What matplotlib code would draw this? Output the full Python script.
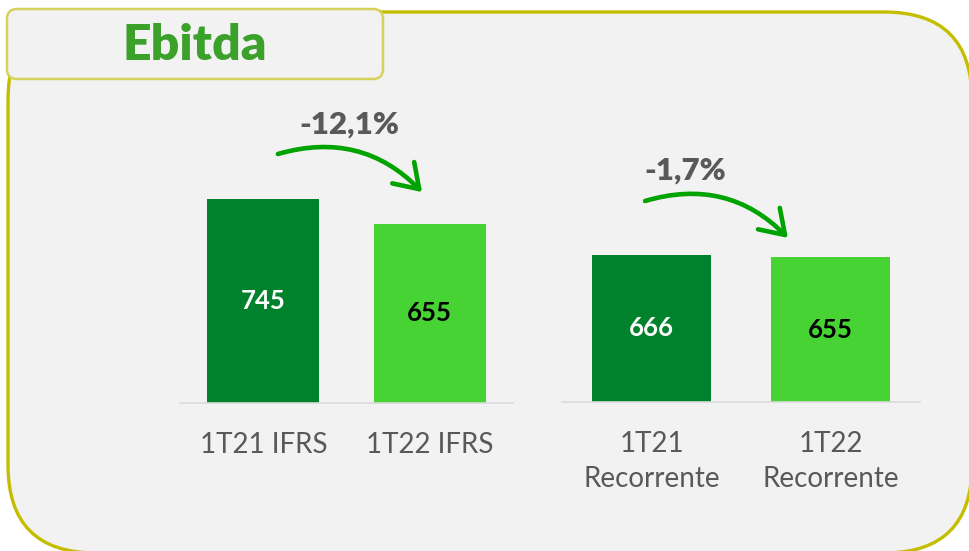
import matplotlib.pyplot as plt
from matplotlib.patches import FancyBboxPatch

# data
categories_ifrs = ["1T21 IFRS", "1T22 IFRS"]
ebitda_ifrs = [745, 655]
categories_rec = ["1T21\nRecorrente", "1T22\nRecorrente"]
ebitda_rec = [666, 655]
var_labels = ["-12,1%", "-1,7%"]

bar_colors = ["#00822C", "#47D333"]
value_colors = ["white", "black"]
grey = "#595959"
arrow_green = "#00A300"
W, H = 969, 551

plt.rcParams["font.family"] = ["Lato", "DejaVu Sans"]

fig = plt.figure(figsize=(W / 100, H / 100), dpi=100)
fig.patch.set_facecolor("white")

# background axes in pixel units, for the frame and title box
bg = fig.add_axes([0, 0, 1, 1])
bg.set_xlim(0, W)
bg.set_ylim(H, 0)
bg.axis("off")
bg.add_patch(FancyBboxPatch((8 + 88, 12 + 88), 964 - 176, 541 - 176,
                            boxstyle="round,pad=88", fc="#F2F2F2", ec="#C5BD00", lw=2.4,
                            zorder=1))
bg.add_patch(FancyBboxPatch((7 + 10, 9 + 10), 376 - 20, 70 - 20,
                            boxstyle="round,pad=10", fc="#F2F2F2", ec="#D6D25C", lw=1.8,
                            zorder=2))
bg.text(195, 46, "Ebitda", color="#3BA12A", fontsize=36, fontweight="heavy",
        ha="center", va="center", zorder=3)


def px_axes(x0, x1, ybase, height=300):
    return fig.add_axes([x0 / W, (H - ybase) / H, (x1 - x0) / W, height / H])


def draw_pair(ax, cats, vals, ymax, var, arrow_from, arrow_to, text_at):
    xs = range(len(vals))
    ax.bar(xs, vals, width=0.67, color=bar_colors, zorder=2)
    for x, v, c in zip(xs, vals, value_colors):
        ax.text(x, v / 2, str(v), color=c, fontsize=18.5, fontweight="bold",
                ha="center", va="center")
    ax.set_xlim(-0.5, 1.5)
    ax.set_ylim(0, ymax)
    ax.set_facecolor("none")
    for s in ["top", "left", "right"]:
        ax.spines[s].set_visible(False)
    ax.spines["bottom"].set_color("#DADADA")
    ax.spines["bottom"].set_linewidth(1.2)
    ax.set_yticks([])
    ax.set_xticks(list(xs))
    ax.set_xticklabels(cats, color=grey, fontsize=20, linespacing=1.4)
    ax.tick_params(axis="x", length=0, pad=21)
    ax.annotate("", xy=arrow_to, xytext=arrow_from, xycoords="axes fraction",
                arrowprops=dict(arrowstyle="->,head_length=0.75,head_width=0.5",
                                connectionstyle="arc3,rad=-0.3", lw=3.3,
                                color=arrow_green, shrinkA=0, shrinkB=0,
                                mutation_scale=22, capstyle="round"),
                annotation_clip=False)
    ax.text(text_at[0], text_at[1], var, transform=ax.transAxes, color=grey,
            fontsize=22.5, fontweight="heavy", ha="center", va="center")


ax1 = px_axes(180, 513, 403)
draw_pair(ax1, categories_ifrs, ebitda_ifrs, 1095, var_labels[0],
          (0.294, 0.83), (0.727, 0.703), (0.51, 0.927))

ax2 = px_axes(562, 920, 402)
draw_pair(ax2, categories_rec, ebitda_rec, 1359, var_labels[1],
          (0.232, 0.67), (0.631, 0.547), (0.344, 0.773))

fig.savefig("out.png", dpi=100, facecolor=fig.get_facecolor())
